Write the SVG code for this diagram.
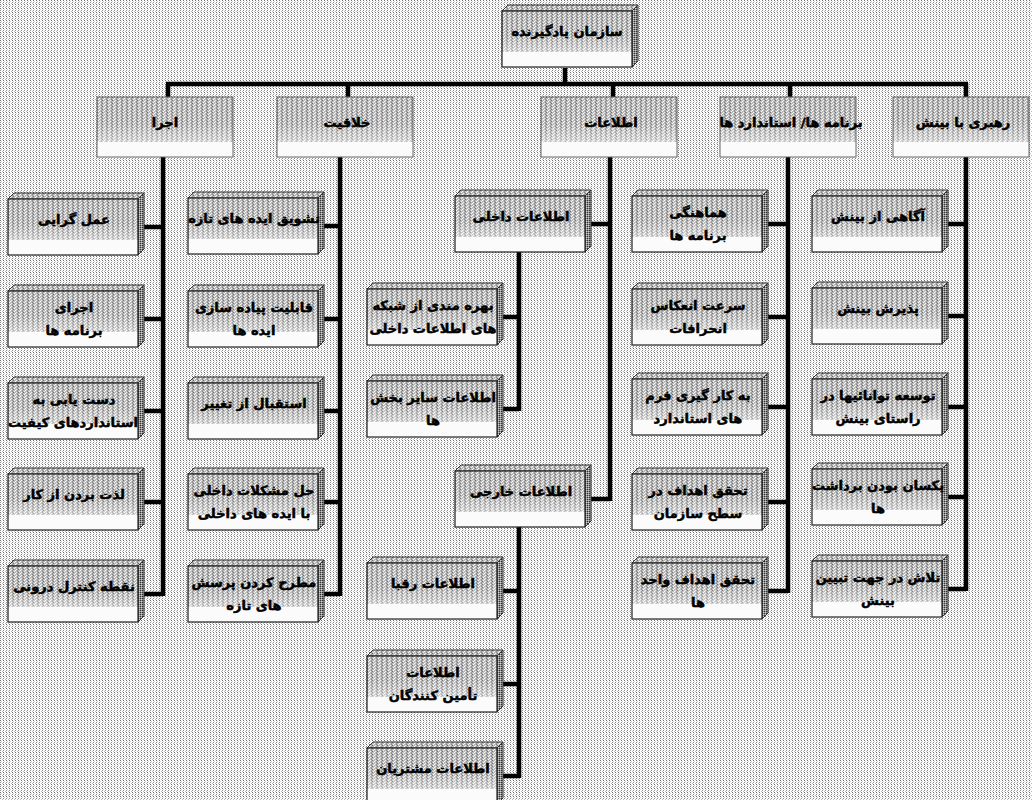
<svg xmlns="http://www.w3.org/2000/svg" xmlns:xlink="http://www.w3.org/1999/xlink" width="1032" height="800" viewBox="0 0 1032 800">
<defs>
<pattern id="bg" width="3" height="4" patternUnits="userSpaceOnUse">
<rect width="3" height="4" fill="#ffffff"/>
<rect x="0" y="0" width="1" height="1" fill="#6e6e6e"/>
<rect x="0" y="2" width="1" height="1" fill="#8a8a8a"/>
<rect x="1" y="1" width="1" height="1" fill="#d0d0d0"/>
<rect x="2" y="3" width="1" height="1" fill="#b8b8b8"/>
</pattern>
<pattern id="dith" width="5" height="3" patternUnits="userSpaceOnUse">
<rect width="5" height="3" fill="#b9b9b9"/>
<rect x="0" y="0" width="1" height="1" fill="#6e6e6e"/>
<rect x="2" y="1" width="1" height="1" fill="#ffffff"/>
<rect x="4" y="2" width="1" height="1" fill="#888"/>
<rect x="3" y="0" width="1" height="1" fill="#eeeeee"/>
<rect x="1" y="2" width="1" height="1" fill="#f4f4f4"/>
<rect x="4" y="1" width="1" height="1" fill="#999"/>
</pattern>
<pattern id="dark" width="2" height="2" patternUnits="userSpaceOnUse">
<rect width="2" height="2" fill="#909090"/>
<rect x="0" y="0" width="1" height="1" fill="#333"/>
<rect x="1" y="1" width="1" height="1" fill="#cfcfcf"/>
</pattern>
<linearGradient id="fade" x1="0" y1="0" x2="0" y2="1">
<stop offset="0" stop-color="#fff" stop-opacity="0"/>
<stop offset="0.6" stop-color="#fff" stop-opacity="0.05"/>
<stop offset="1" stop-color="#fff" stop-opacity="0.45"/>
</linearGradient>
<symbol id="b2" width="136" height="62" overflow="visible">
<polygon points="0,6 6,0 136,0 130,6" fill="url(#dith)" stroke="#333" stroke-width="1"/>
<polygon points="130,6 136,0 136,56 130,62" fill="url(#dark)" stroke="#333" stroke-width="1"/>
<rect x="0" y="6" width="130" height="56" fill="url(#dith)"/>
<rect x="0" y="6" width="130" height="42" fill="url(#fade)"/>
<rect x="0" y="47" width="130" height="15" fill="#fbfbfb"/>
<rect x="0" y="6" width="130" height="56" fill="none" stroke="#222" stroke-width="1.2"/>
</symbol>
<symbol id="b1" width="136" height="60" overflow="visible">
<rect x="0" y="0" width="136" height="60" fill="url(#dith)"/>
<rect x="0" y="0" width="136" height="45" fill="url(#fade)"/>
<rect x="0" y="45" width="136" height="15" fill="#fbfbfb"/>
<rect x="0" y="0" width="136" height="60" fill="none" stroke="#666" stroke-width="1"/>
</symbol>
</defs>
<style>
.t{font-family:"DejaVu Sans","Noto Sans",sans-serif;font-weight:bold;font-size:13px;fill:#000;stroke:#000;stroke-width:0.5px;text-anchor:middle;direction:rtl}
.c{stroke:#000;stroke-width:4.5;fill:none;stroke-linecap:butt}
</style>
<rect width="1032" height="800" fill="url(#bg)"/>

<g id="connectors">
<path class="c" d="M565,68 V84 M166,84 H968 M168,84 V97 M348,84 V97 M613,84 V97 M790,84 V97 M966,84 V97"/>
<path class="c" d="M163,157 V596 M144,227 H163 M144,319 H163 M144,411 H163 M144,502 H163 M144,594 H163"/>
<path class="c" d="M340,157 V596 M324,226 H340 M324,319 H340 M324,411 H340 M324,502 H340 M324,594 H340"/>
<path class="c" d="M610,157 V501 M591,224 H610 M591,499 H610"/>
<path class="c" d="M519,252 V411 M503,317 H519 M503,409 H519"/>
<path class="c" d="M519,527 V778 M503,591 H519 M503,684 H519 M503,776 H519"/>
<path class="c" d="M788,157 V593 M768,224 H788 M768,317 H788 M768,407 H788 M768,502 H788 M768,591 H788"/>
<path class="c" d="M966,157 V591 M948,224 H966 M948,316 H966 M948,407 H966 M948,497 H966 M948,589 H966"/>
</g>

<g id="n-root"><use href="#b2" x="502" y="5" width="136" height="62"/><text class="t" x="567" y="36" font-size="14">سازمان یادگیرنده</text></g>

<g id="n-ejra"><use href="#b1" x="97" y="97"/><text class="t" x="165" y="127">اجرا</text></g>
<g id="n-khalaghiat"><use href="#b1" x="277" y="97"/><text class="t" x="347" y="127">خلاقیت</text></g>
<g id="n-etelaat"><use href="#b1" x="541" y="97"/><text class="t" x="611" y="127">اطلاعات</text></g>
<g id="n-barname"><use href="#b1" x="720" y="97"/><text class="t" x="791" y="127" font-size="12">برنامه ها/ استاندارد ها</text></g>
<g id="n-rahbari"><use href="#b1" x="893" y="97"/><text class="t" x="963" y="127">رهبری با بینش</text></g>

<g id="n-a1"><use href="#b2" x="8" y="193"/><text class="t" x="74" y="224">عمل گرایی</text></g>
<g id="n-a2"><use href="#b2" x="8" y="285"/><text class="t" x="74" y="312">اجرای</text><text class="t" x="74" y="335">برنامه ها</text></g>
<g id="n-a3"><use href="#b2" x="8" y="377"/><text class="t" x="74" y="404">دست یابی به</text><text class="t" x="73" y="427" font-size="12.5">استانداردهای کیفیت</text></g>
<g id="n-a4"><use href="#b2" x="8" y="468"/><text class="t" x="74" y="499">لذت بردن از کار</text></g>
<g id="n-a5"><use href="#b2" x="8" y="560"/><text class="t" x="74" y="591">نقطه کنترل درونی</text></g>

<g id="n-b1"><use href="#b2" x="188" y="192"/><text class="t" x="254" y="223">تشویق ایده های تازه</text></g>
<g id="n-b2"><use href="#b2" x="188" y="285"/><text class="t" x="254" y="312">قابلیت پیاده سازی</text><text class="t" x="254" y="335">ایده ها</text></g>
<g id="n-b3"><use href="#b2" x="188" y="377"/><text class="t" x="254" y="408">استقبال از تغییر</text></g>
<g id="n-b4"><use href="#b2" x="188" y="468"/><text class="t" x="254" y="495">حل مشکلات داخلی</text><text class="t" x="254" y="518">با ایده های داخلی</text></g>
<g id="n-b5"><use href="#b2" x="188" y="560"/><text class="t" x="254" y="587">مطرح کردن پرسش</text><text class="t" x="254" y="610">های تازه</text></g>

<g id="n-c1"><use href="#b2" x="455" y="190"/><text class="t" x="521" y="221">اطلاعات داخلی</text></g>
<g id="n-c2"><use href="#b2" x="455" y="465"/><text class="t" x="521" y="496">اطلاعات خارجی</text></g>

<g id="n-c11"><use href="#b2" x="367" y="283"/><text class="t" x="433" y="310">بهره مندی از شبکه</text><text class="t" x="433" y="333">های اطلاعات داخلی</text></g>
<g id="n-c12"><use href="#b2" x="367" y="375"/><text class="t" x="433" y="402">اطلاعات سایر بخش</text><text class="t" x="433" y="425">ها</text></g>
<g id="n-c21"><use href="#b2" x="367" y="557"/><text class="t" x="433" y="588">اطلاعات رقبا</text></g>
<g id="n-c22"><use href="#b2" x="367" y="650"/><text class="t" x="433" y="677">اطلاعات</text><text class="t" x="433" y="700">تأمین کنندگان</text></g>
<g id="n-c23"><use href="#b2" x="367" y="742"/><text class="t" x="433" y="773">اطلاعات مشتریان</text></g>

<g id="n-d1"><use href="#b2" x="632" y="190"/><text class="t" x="698" y="217">هماهنگی</text><text class="t" x="698" y="240">برنامه ها</text></g>
<g id="n-d2"><use href="#b2" x="632" y="283"/><text class="t" x="698" y="310">سرعت انعکاس</text><text class="t" x="698" y="333">انحرافات</text></g>
<g id="n-d3"><use href="#b2" x="632" y="373"/><text class="t" x="698" y="400">به کار گیری فرم</text><text class="t" x="698" y="423">های استاندارد</text></g>
<g id="n-d4"><use href="#b2" x="632" y="468"/><text class="t" x="698" y="495">تحقق اهداف در</text><text class="t" x="698" y="518">سطح سازمان</text></g>
<g id="n-d5"><use href="#b2" x="632" y="557"/><text class="t" x="698" y="584">تحقق اهداف واحد</text><text class="t" x="698" y="607">ها</text></g>

<g id="n-e1"><use href="#b2" x="812" y="190"/><text class="t" x="878" y="221">آگاهی از بینش</text></g>
<g id="n-e2"><use href="#b2" x="812" y="282"/><text class="t" x="878" y="313">پذیرش بینش</text></g>
<g id="n-e3"><use href="#b2" x="812" y="373"/><text class="t" x="878" y="400">توسعه توانائیها در</text><text class="t" x="878" y="423">راستای بینش</text></g>
<g id="n-e4"><use href="#b2" x="812" y="463"/><text class="t" x="878" y="490" font-size="12.5">یکسان بودن برداشت</text><text class="t" x="878" y="513">ها</text></g>
<g id="n-e5"><use href="#b2" x="812" y="555"/><text class="t" x="878" y="582">تلاش در جهت تبیین</text><text class="t" x="878" y="605">بینش</text></g>
</svg>
